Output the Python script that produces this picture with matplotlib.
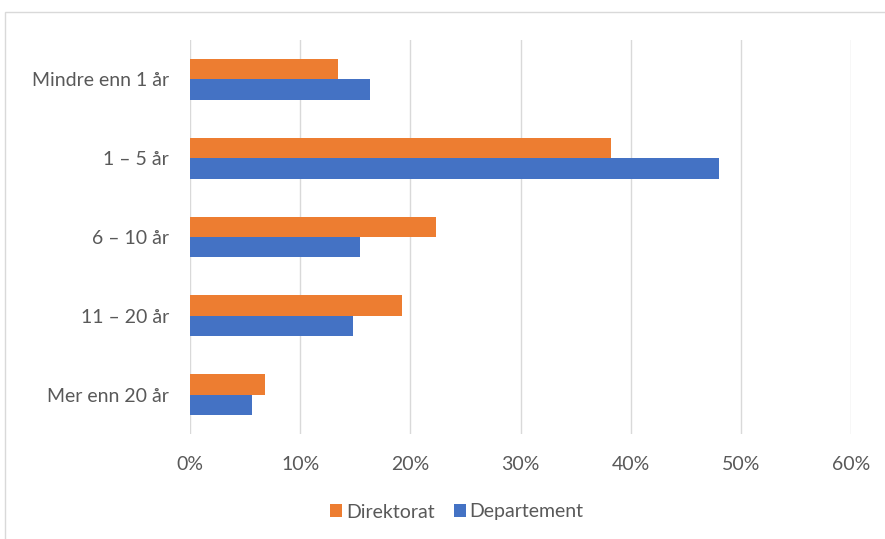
import numpy as np
import matplotlib.pyplot as plt
from matplotlib.patches import Rectangle

plt.rcParams['font.family'] = ['Lato', 'DejaVu Sans']

categories = ['Mindre enn 1 år', '1 – 5 år', '6 – 10 år', '11 – 20 år', 'Mer enn 20 år']
direktorat = [13.4, 38.2, 22.3, 19.2, 6.8]
departement = [16.3, 48.0, 15.4, 14.8, 5.6]
xticks = [0, 10, 20, 30, 40, 50, 60]

orange = '#ED7D31'
blue = '#4472C4'
textc = '#595959'

fig = plt.figure(figsize=(8.85, 5.39), dpi=100)
ax = fig.add_axes([190 / 885, 1 - 434 / 539, (851 - 190) / 885, (434 - 40) / 539])

y = np.arange(len(categories))
h = 0.26
ax.barh(y - h / 2, direktorat, height=h, color=orange, label='Direktorat', zorder=3)
ax.barh(y + h / 2, departement, height=h, color=blue, label='Departement', zorder=3)

ax.set_ylim(len(categories) - 0.5, -0.5)
ax.set_xlim(0, 60)
ax.set_xticks(xticks)
ax.set_xticklabels([f'{t}%' for t in xticks])
ax.set_yticks(y)
ax.set_yticklabels(categories)
ax.tick_params(length=0, labelsize=14, colors=textc)
ax.tick_params(axis='x', pad=16)
ax.tick_params(axis='y', pad=15)
ax.grid(axis='x', color='#D9D9D9', linewidth=1, zorder=0)
for s in ax.spines.values():
    s.set_visible(False)

fig.legend(loc='center', bbox_to_anchor=(457 / 885, 1 - 512 / 539), ncol=2,
           frameon=False, fontsize=14, labelcolor=textc, handlelength=0.6,
           handleheight=0.6, handletextpad=0.2, columnspacing=1.0)

fig.patches.append(Rectangle((5 / 885, -0.1), 1.0, 1 - 12 / 539 + 0.1,
                             transform=fig.transFigure, fill=False,
                             edgecolor='#D9D9D9', linewidth=1))

fig.savefig('out.png', dpi=100)
